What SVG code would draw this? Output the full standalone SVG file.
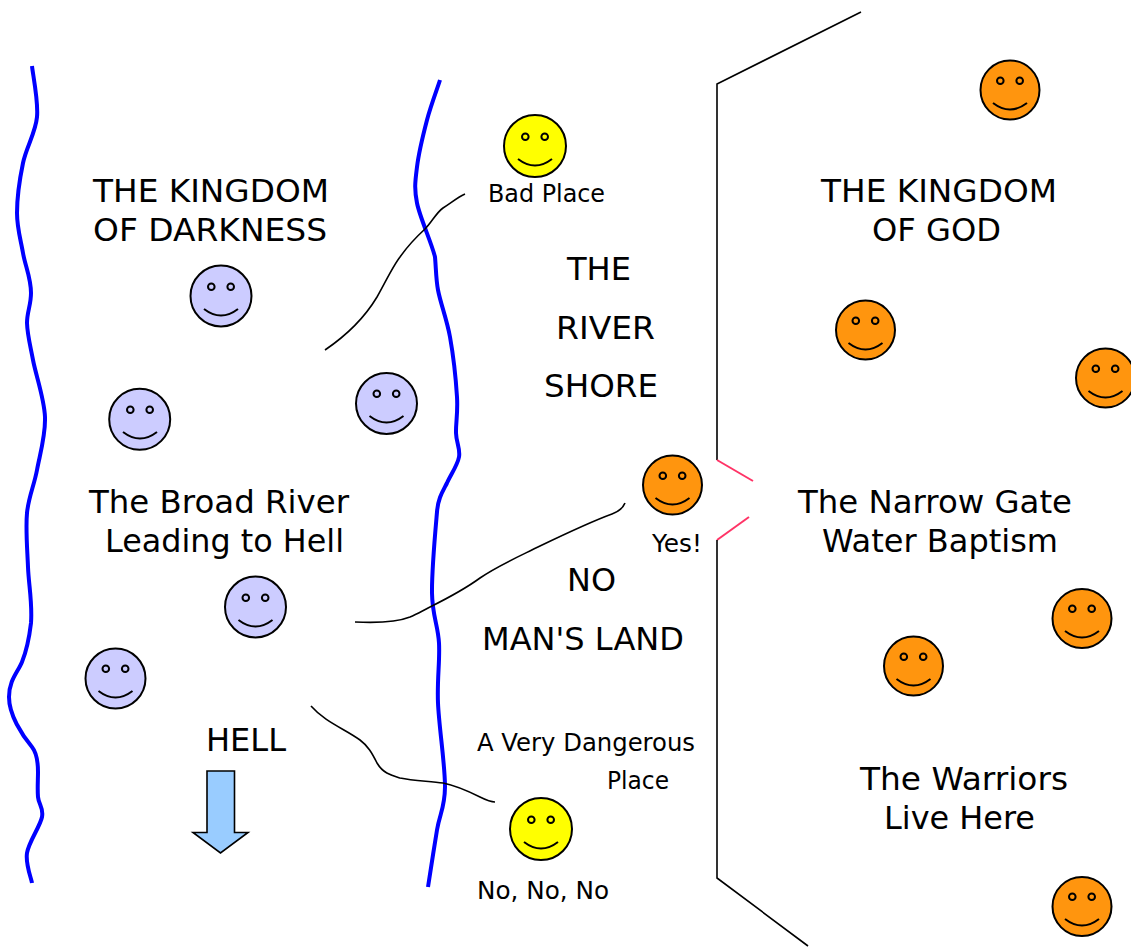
<svg xmlns="http://www.w3.org/2000/svg" width="1131" height="947" viewBox="0 0 1131 947">
<style>
text{font-family:"DejaVu Sans",Verdana,sans-serif;fill:#000}
.l{font-size:32px}
.s{font-size:24px}
.r{fill:none;stroke:#0000ff;stroke-width:4}
.c{fill:none;stroke:#000;stroke-width:1.6}
.g{fill:none;stroke:#ff3366;stroke-width:2}
.f{stroke:#000;stroke-width:2}
.m{fill:none;stroke:#000;stroke-width:2}
.e{fill:none;stroke:#000;stroke-width:2}
.v{fill:#ccccff}.o{fill:#ff950e}.y{fill:#ffff00}
</style>
<defs>
<g id="face"><circle class="e" cx="-9.7" cy="-9.300" r="3.300"/><circle class="e" cx="9.700" cy="-9.300" r="3.300"/><path class="m" d="M-17 13Q0 26 17 13"/></g>
</defs>
<g id="connectors">
<path id="river-left" class="r" d="M32 66C32.800 74.500 38.500 101 37 117C35.500 133 26.300 147 23 163C19.700 179 17 198 17 213C17 228 20.700 239.700 23 253C25.300 266.300 31 278 31 293C31 305 27 312 27 323C27.300 334.200 30 344.300 33 360C36 375.700 44.300 398.700 45 417C45.700 435.300 40 454 37 470C34 486 28.500 497 27 513C25.500 529 27.300 549 28 567C28.700 585 32.500 603 31 623C29 640 26 652 22 662C18 672 9 680 9 697C9 715 22 735 32 747C36 752 38 760 38 772C38 780 37.300 789.200 38 797C38.700 804.800 43.800 807.700 42 817C40.200 826.300 28.700 842 27 853C25.300 864 31.200 878 32 883"/>
<path id="river-right" class="r" d="M440 80C438 86.700 430.800 105.500 427 120C423.200 134.500 418.700 153.200 417 167C415.300 180.800 414 188 417 203C420 218 431.500 242.500 435 257C436 268 436 280 438 290C440.500 303.300 446.800 319.200 450 337C453.200 354.800 456 381 457 397C458 413 455.700 423 456 433C456.300 443 460.500 448.700 459 457C457.500 465.300 450.700 474.700 447 483C443 491 438 498 437 512C435 535 431.700 570.300 432 593C432.300 615.700 438 625 439 643C440 661 437 679 438 703C439 727 445.200 766 445 787C444.800 808 439.800 813.300 437 830C434.200 846.700 429.500 877.500 428 887"/>
<path class="c" d="M325 350C350 333 365 317 377 297C386 281 393 266 400 257C407 247 413 240 425 229C432 222 436 213 443 208C451 203 458 197 465 194"/>
<path class="c" d="M355 622C375 623 395 623 410 617C417 614 422 611 430 607C448 598 465 589 480 578C497 566 520 556 540 546C565 534 590 522 612 514C620 511 623 508 625 503"/>
<path class="c" d="M311 706C325 722 345 729 360 740C368 746 372 753 377 763C383 773 390 775 400 778C414 781 430 781 443 783C458 786 470 792 480 797C486 800 490 802 495 802"/>
<path class="c" d="M861 12L717 84V460"/>
<path class="g" d="M717 460L753 481"/>
<path class="g" d="M749 517L717 540"/>
<path class="c" d="M717 540V878L808 946"/>
</g>
<g id="arrow"><path d="M207 771H234.500V832.500H248L220.500 853L193 832.500H207Z" fill="#99ccff" stroke="#000" stroke-width="1.600"/></g>
<g id="soul-1"><circle class="f v" cx="221" cy="296" r="30.500"/><use href="#face" x="221" y="296"/></g>
<g id="soul-2"><circle class="f v" cx="139.700" cy="419.300" r="30.500"/><use href="#face" x="140" y="419"/></g>
<g id="soul-3"><circle class="f v" cx="386.500" cy="403.500" r="30.500"/><use href="#face" x="386.500" y="403"/></g>
<g id="soul-4"><circle class="f v" cx="255.500" cy="607" r="30.500"/><use href="#face" x="255.500" y="607"/></g>
<g id="soul-5"><circle class="f v" cx="115.500" cy="678.500" r="30"/><use href="#face" x="115.500" y="678"/></g>
<g id="yellow-1"><circle class="f y" cx="535" cy="146" r="31"/><use href="#face" x="535" y="146"/></g>
<g id="yellow-2"><circle class="f y" cx="541" cy="829" r="31"/><use href="#face" x="541" y="829"/></g>
<g id="orange-gate"><circle class="f o" cx="672.500" cy="485" r="29.500"/><use href="#face" x="672.500" y="485"/></g>
<g id="orange-1"><circle class="f o" cx="1010" cy="90" r="29.500"/><use href="#face" x="1010" y="90"/></g>
<g id="orange-2"><circle class="f o" cx="865.500" cy="330" r="29.500"/><use href="#face" x="865.500" y="330"/></g>
<g id="orange-3"><circle class="f o" cx="1105.500" cy="378" r="29.500"/><use href="#face" x="1105.500" y="378"/></g>
<g id="orange-4"><circle class="f o" cx="1082" cy="618.500" r="29.500"/><use href="#face" x="1082" y="618"/></g>
<g id="orange-5"><circle class="f o" cx="913.500" cy="666" r="29.500"/><use href="#face" x="913.500" y="666"/></g>
<g id="orange-6"><circle class="f o" cx="1082" cy="906.500" r="29.500"/><use href="#face" x="1082" y="906"/></g>
<g id="labels">
<text class="l" x="93" y="202" textLength="236" lengthAdjust="spacingAndGlyphs">THE KINGDOM</text>
<text class="l" x="93" y="241" textLength="234" lengthAdjust="spacingAndGlyphs">OF DARKNESS</text>
<text class="l" x="89" y="513" textLength="260" lengthAdjust="spacingAndGlyphs">The Broad River</text>
<text class="l" x="105" y="552" textLength="239" lengthAdjust="spacingAndGlyphs">Leading to Hell</text>
<text class="l" x="206" y="751" textLength="80" lengthAdjust="spacingAndGlyphs">HELL</text>
<text class="s" x="488" y="202" textLength="117" lengthAdjust="spacingAndGlyphs">Bad Place</text>
<text class="l" x="567" y="280" textLength="64" lengthAdjust="spacingAndGlyphs">THE</text>
<text class="l" x="556" y="339" textLength="99" lengthAdjust="spacingAndGlyphs">RIVER</text>
<text class="l" x="544" y="397" textLength="114" lengthAdjust="spacingAndGlyphs">SHORE</text>
<text class="s" x="652" y="552" textLength="50" lengthAdjust="spacingAndGlyphs">Yes!</text>
<text class="l" x="567" y="591" textLength="49" lengthAdjust="spacingAndGlyphs">NO</text>
<text class="l" x="482" y="650" textLength="202" lengthAdjust="spacingAndGlyphs">MAN'S LAND</text>
<text class="s" x="477" y="751" textLength="218" lengthAdjust="spacingAndGlyphs">A Very Dangerous</text>
<text class="s" x="607" y="789" textLength="62" lengthAdjust="spacingAndGlyphs">Place</text>
<text class="s" x="477" y="899" textLength="132" lengthAdjust="spacingAndGlyphs">No, No, No</text>
<text class="l" x="821" y="202" textLength="236" lengthAdjust="spacingAndGlyphs">THE KINGDOM</text>
<text class="l" x="872" y="241" textLength="129" lengthAdjust="spacingAndGlyphs">OF GOD</text>
<text class="l" x="798" y="513" textLength="274" lengthAdjust="spacingAndGlyphs">The Narrow Gate</text>
<text class="l" x="822" y="552" textLength="236" lengthAdjust="spacingAndGlyphs">Water Baptism</text>
<text class="l" x="860" y="790" textLength="208" lengthAdjust="spacingAndGlyphs">The Warriors</text>
<text class="l" x="884" y="829" textLength="151" lengthAdjust="spacingAndGlyphs">Live Here</text>
</g>
</svg>
